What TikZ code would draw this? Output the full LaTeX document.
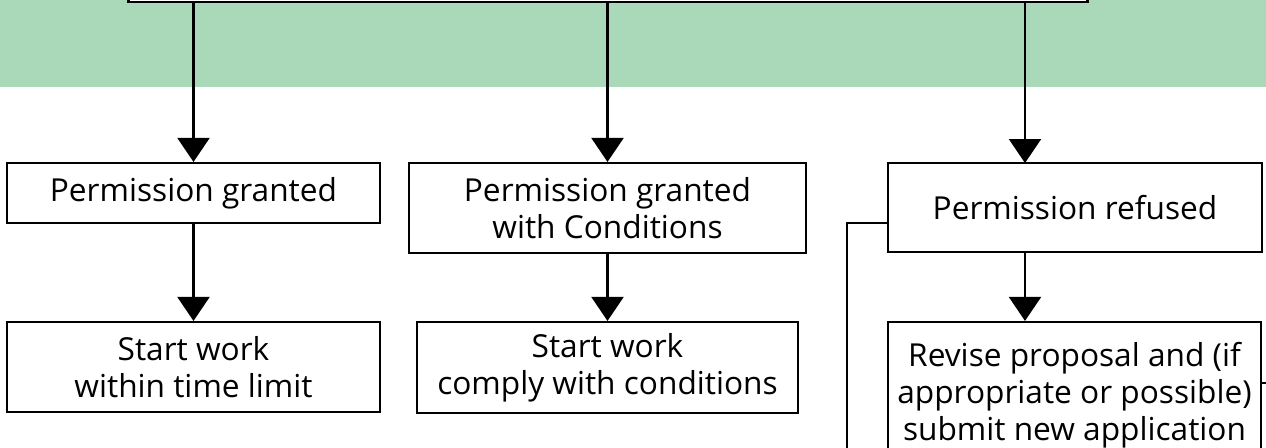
\documentclass[tikz,border=0pt]{standalone}
\usepackage{fontspec}
\setmainfont{Open Sans}
\usetikzlibrary{arrows.meta}

\definecolor{bandgreen}{RGB}{169,217,185}

\tikzset{
    box/.style={draw, fill=white, line width=0.6pt, inner sep=0pt,
        align=center, font=\fontsize{9}{10.6}\selectfont},
    link/.style={line width=0.6pt},
    arr/.style={link, -{Triangle[width=3.2mm,length=2.4mm]}}
}

\begin{document}
\begin{tikzpicture}[x=0.01cm,y=-0.01cm]

\useasboundingbox (0,0) rectangle (1266,447);
\clip (0,0) rectangle (1266,447);

% Bandeau
\fill[bandgreen] (0,0) rectangle (1266,87);

\node[box, line width=0.8pt, minimum width=9.58cm, minimum height=0.84cm]
    (app) at (608,-40) {};

% Decisions
\node[box, minimum width=3.73cm, minimum height=0.60cm]
    (granted) at (193.5,193) {Permission granted};
\node[box, minimum width=3.97cm, minimum height=0.90cm]
    (cond) at (607.5,208) {Permission granted\\with Conditions};
\node[box, minimum width=3.74cm, minimum height=0.89cm]
    (refused) at (1075,207.5) {Permission refused};

% Suites
\node[box, minimum width=3.73cm, minimum height=0.90cm]
    (start) at (193.5,367) {Start work\\within time limit};
\node[box, minimum width=3.81cm, minimum height=0.91cm]
    (comply) at (607.5,367.5) {Start work\\comply with conditions};
\node[box, minimum width=3.73cm, minimum height=1.46cm]
    (revise) at (1074.5,395) {Revise proposal and (if\\appropriate or possible)\\submit new application};

\coordinate (rin) at (1025,163);
\coordinate (back) at (847,460);
\coordinate (out) at (1270,383);

\draw[arr] (app.south -| granted.north) -- (granted.north);
\draw[arr] (app.south -| cond.north) -- (cond.north);
\draw[arr] (app.south -| rin) -- (rin);

\draw[arr] (granted.south) -- (start.north);
\draw[arr] (cond.south) -- (comply.north);
\draw[arr] (refused.south -| rin) -- (revise.north -| rin);

\draw[link] ([yshift=-0.155cm]refused.west) -| (back);
\draw[link] (revise.east |- out) -- (out);

\end{tikzpicture}
\end{document}
